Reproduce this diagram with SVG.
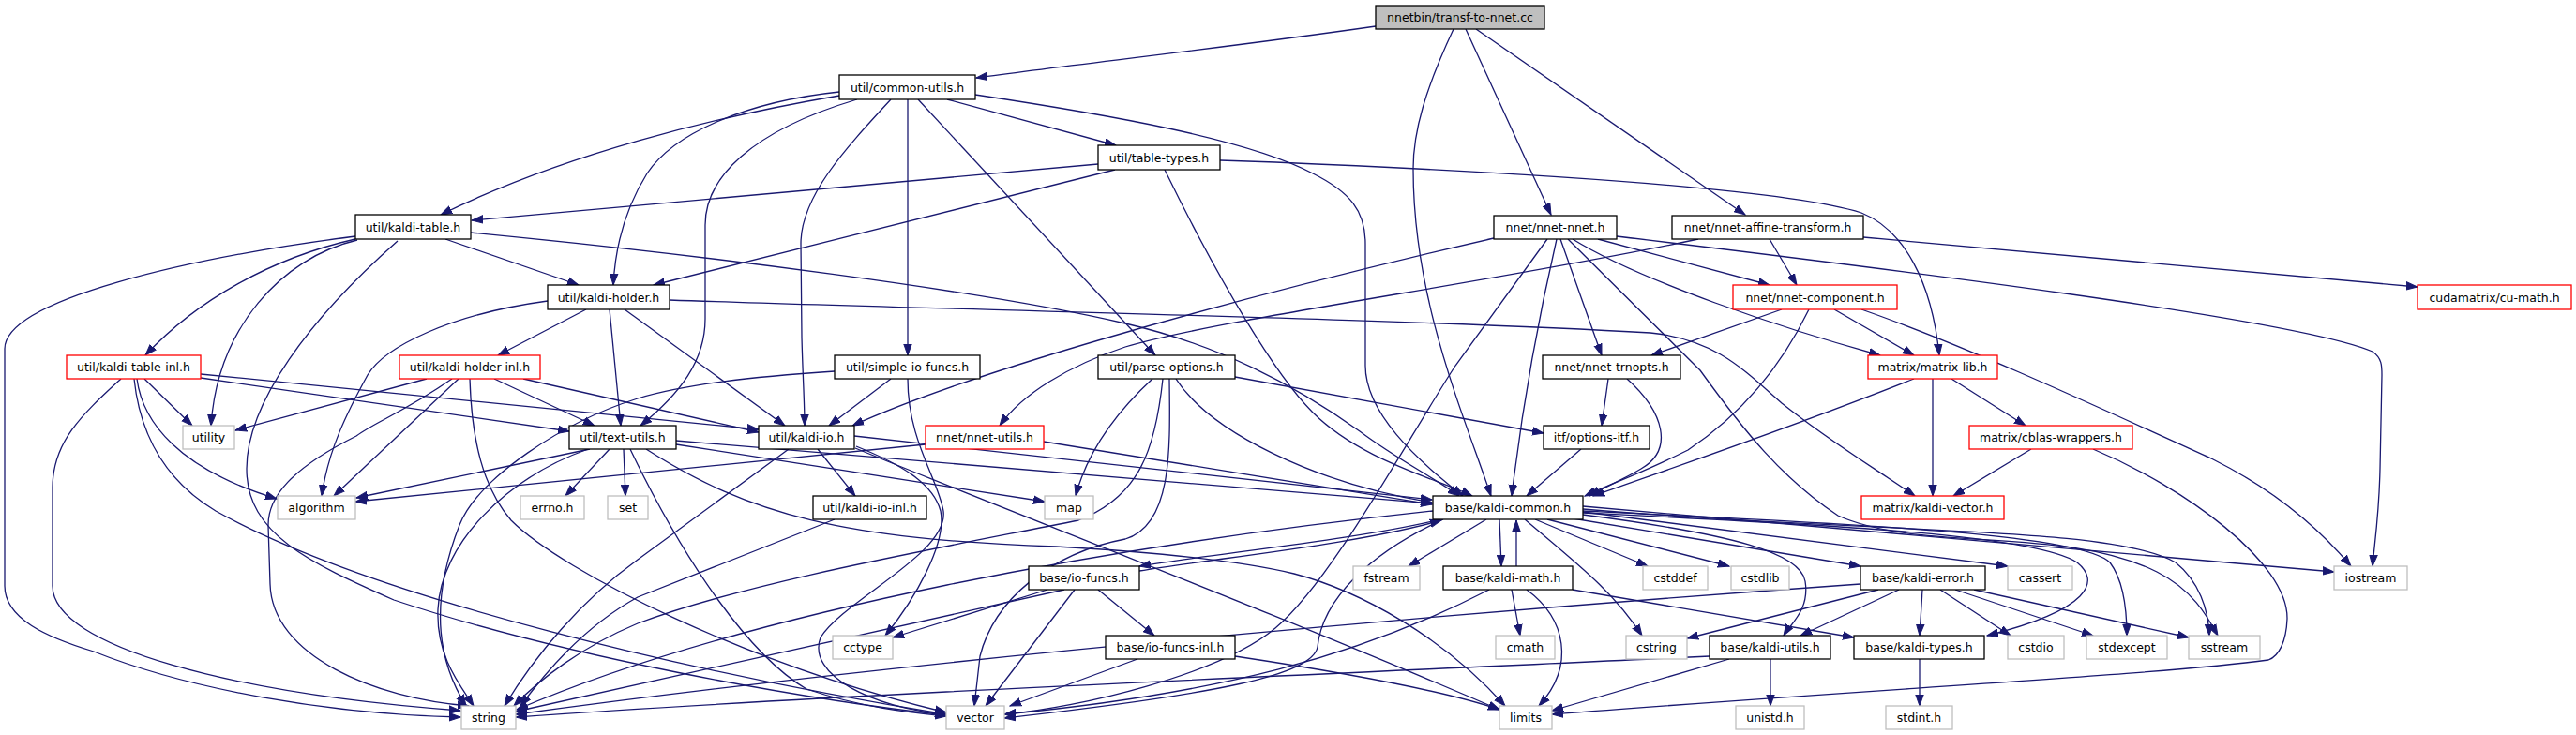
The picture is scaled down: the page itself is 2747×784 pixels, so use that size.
<svg xmlns="http://www.w3.org/2000/svg" width="2747" height="784" viewBox="0 0 2747 784">
<style>
rect{stroke-width:1.3}
.b rect{fill:#fff;stroke:#000}
.r rect{fill:#fff;stroke:#ff0000}
.g rect{fill:#fff;stroke:#bfbfbf}
.root rect{fill:#bfbfbf;stroke:#000}
text{font-family:"DejaVu Sans",sans-serif;font-size:12.5px;fill:#000;text-anchor:middle}
#edges path{fill:none;stroke:#191970;stroke-width:1.3;marker-end:url(#a)}
</style>
<defs>
<marker id="a" markerWidth="13" markerHeight="10" refX="12" refY="5" orient="auto" markerUnits="userSpaceOnUse"><path d="M0,0.8 L12,5 L0,9.2 z" fill="#191970" stroke="#191970" stroke-width="1"/></marker>
</defs>
<rect width="2747" height="784" fill="#fff"/>
<g id="edges">
<path d="M1467,28 C1300,52 1150,68 1041,83"/>
<path d="M1550,31 C1520,95 1507,140 1507,180 C1507,320 1560,440 1590,529"/>
<path d="M1563,31 L1654,229"/>
<path d="M1574,31 L1861,229"/>
<path d="M895,102 C760,125 600,165 470,229"/>
<path d="M895,98 C800,108 720,140 690,185 C665,225 656,265 654,304"/>
<path d="M914,106 C800,140 752,190 752,240 L752,340 C752,385 725,420 683,454"/>
<path d="M950,106 C900,160 854,210 854,260 L855,360 C856,400 858,430 858,454"/>
<path d="M968,106 L968,379"/>
<path d="M979,106 L1232,379"/>
<path d="M1010,106 L1190,155"/>
<path d="M1040,101 C1180,122 1330,148 1400,185 C1440,205 1456,225 1456,260 L1456,390 C1456,440 1510,490 1560,529"/>
<path d="M1171,175 L503,235"/>
<path d="M1189,181 L697,304"/>
<path d="M1301,171 L1360,173 C1600,183 1900,200 1985,227 C2030,245 2060,300 2068,379"/>
<path d="M1242,181 C1300,300 1360,400 1400,440 C1450,490 1530,510 1570,529"/>
<path d="M379,252 C200,275 5,320 5,372 L5,625 C5,660 50,680 100,695 C200,735 350,762 491,765"/>
<path d="M379,255 C290,275 210,320 155,379"/>
<path d="M381,256 C300,275 232,350 225,454"/>
<path d="M424,257 C330,340 263,430 263,500 C263,570 330,600 420,640 C600,700 850,745 1009,763"/>
<path d="M475,255 L617,304"/>
<path d="M502,248 C750,272 1050,310 1200,345 C1300,368 1380,410 1450,460 C1490,490 1530,510 1556,529"/>
<path d="M584,321 C480,335 410,370 392,400 C370,440 350,480 343,529"/>
<path d="M625,330 L531,379"/>
<path d="M650,330 L662,454"/>
<path d="M666,330 L837,454"/>
<path d="M714,320 C1000,330 1500,340 1760,355 C1830,362 1860,395 1900,430 C1950,470 2000,500 2042,529"/>
<path d="M455,404 L251,459"/>
<path d="M489,404 L356,529"/>
<path d="M482,404 C430,440 400,450 380,465 C310,500 286,530 286,560 L288,623 C290,700 400,745 500,753"/>
<path d="M527,404 L634,454"/>
<path d="M558,404 L809,461"/>
<path d="M501,404 C503,470 515,520 545,555 C600,610 800,710 1009,760"/>
<path d="M154,404 L205,454"/>
<path d="M146,404 C152,450 190,500 295,532"/>
<path d="M129,404 C90,440 56,470 56,520 L56,625 C56,690 250,740 491,758"/>
<path d="M143,404 C150,470 180,515 230,545 C400,640 750,720 1009,762"/>
<path d="M214,399 L809,458"/>
<path d="M214,403 L607,460"/>
<path d="M629,479 L380,531"/>
<path d="M650,479 L603,529"/>
<path d="M665,479 L667,529"/>
<path d="M627,479 C540,510 470,580 467,650 C465,700 490,730 505,753"/>
<path d="M721,474 L1114,535"/>
<path d="M672,479 C730,600 800,700 860,735 C920,755 970,760 1009,764"/>
<path d="M689,479 C800,550 900,575 1126,583 C1250,590 1330,600 1380,612 C1450,630 1540,680 1605,753"/>
<path d="M721,470 L1527,537"/>
<path d="M872,479 L912,529"/>
<path d="M841,479 L680,597 C620,640 570,700 538,753"/>
<path d="M913,476 C960,495 995,515 1003,545 C1010,580 975,640 944,678"/>
<path d="M968,404 C968,470 1000,510 1006,545 C1012,590 900,640 875,680 C860,720 930,755 1009,762"/>
<path d="M912,478 C1100,555 1350,650 1599,757"/>
<path d="M911,465 L1527,533"/>
<path d="M950,404 L884,454"/>
<path d="M890,396 C800,402 730,410 680,425 C600,450 510,510 490,560 C455,650 470,710 497,753"/>
<path d="M890,554 L680,637 C620,670 580,720 555,753"/>
<path d="M1229,404 C1190,440 1160,480 1147,529"/>
<path d="M1240,404 C1232,480 1215,530 1150,555 C1000,585 800,620 680,665 C620,690 575,725 548,753"/>
<path d="M1247,404 C1248,480 1250,560 1200,575 C1120,590 1060,640 1045,700 L1039,753"/>
<path d="M1254,404 C1290,460 1400,515 1527,536"/>
<path d="M1317,402 L1646,462"/>
<path d="M1593,254 C1350,310 1050,390 909,454"/>
<path d="M1660,255 C1645,320 1625,420 1612,529"/>
<path d="M1664,255 L1708,379"/>
<path d="M1704,255 L1887,304"/>
<path d="M1677,255 C1750,300 1900,350 2005,379"/>
<path d="M1650,255 L1552,390 C1500,470 1420,620 1360,670 C1300,720 1150,755 1071,762"/>
<path d="M1724,252 C2000,285 2450,340 2530,375 C2540,382 2540,390 2540,400 L2538,500 C2537,550 2532,580 2530,604"/>
<path d="M1672,255 L1813,395 C1860,460 1900,510 1960,550 C2050,590 2200,560 2300,610 C2340,630 2355,660 2365,678"/>
<path d="M1811,255 C1600,300 1300,340 1200,370 C1140,390 1090,420 1066,454"/>
<path d="M1887,255 L1916,304"/>
<path d="M1987,253 L2578,306"/>
<path d="M1900,330 L1761,379"/>
<path d="M1929,330 C1900,390 1860,440 1800,480 C1750,505 1720,515 1690,529"/>
<path d="M1956,330 L2041,379"/>
<path d="M1985,330 C2100,370 2250,440 2360,490 C2420,520 2470,560 2507,604"/>
<path d="M1715,404 L1708,454"/>
<path d="M1735,404 C1775,440 1785,480 1750,500 C1730,512 1710,520 1695,529"/>
<path d="M1686,479 L1628,529"/>
<path d="M2041,404 C1900,460 1780,500 1699,529"/>
<path d="M2061,404 L2061,529"/>
<path d="M2081,404 L2160,454"/>
<path d="M2166,479 L2083,529"/>
<path d="M2232,479 C2330,520 2440,600 2439,660 C2438,685 2430,700 2419,704 C2300,720 2000,735 1655,762"/>
<path d="M1585,554 L1502,604"/>
<path d="M1599,554 L1601,604"/>
<path d="M1536,554 C1450,575 1300,590 1215,604"/>
<path d="M1215,609 C1300,595 1450,580 1537,555"/>
<path d="M1626,554 C1680,600 1720,630 1751,678"/>
<path d="M1637,554 L1757,604"/>
<path d="M1650,554 L1844,604"/>
<path d="M1677,553 L1984,604"/>
<path d="M1688,549 C1850,570 1920,590 1925,620 C1930,650 1910,665 1902,678"/>
<path d="M1688,546 L2141,604"/>
<path d="M1688,540 L2489,610"/>
<path d="M1688,543 C2000,570 2250,560 2320,600 C2345,620 2355,650 2356,678"/>
<path d="M1688,545 C2000,560 2220,570 2250,600 C2265,620 2268,650 2268,678"/>
<path d="M1688,547 C1950,560 2170,570 2215,600 C2240,620 2230,650 2119,678"/>
<path d="M1528,545 C1200,580 800,650 551,757"/>
<path d="M1539,554 C1460,590 1410,640 1405,690 C1400,720 1300,740 1071,766"/>
<path d="M1117,629 L952,680"/>
<path d="M1135,629 L550,759"/>
<path d="M1146,629 L1051,753"/>
<path d="M1171,629 L1231,678"/>
<path d="M1213,703 L1077,753"/>
<path d="M1317,700 C1450,720 1550,740 1599,757"/>
<path d="M1617,604 L1617,555"/>
<path d="M1612,629 L1621,678"/>
<path d="M1628,629 C1670,660 1680,710 1641,753"/>
<path d="M1588,629 C1450,700 1300,740 1071,762"/>
<path d="M1677,629 L1977,680"/>
<path d="M1984,623 C1600,650 1000,700 550,762"/>
<path d="M2003,629 L1799,681"/>
<path d="M2025,629 L1920,678"/>
<path d="M2050,629 L2047,678"/>
<path d="M2069,629 L2144,678"/>
<path d="M2085,629 L2232,678"/>
<path d="M2105,629 L2334,680"/>
<path d="M1823,700 C1400,720 900,740 550,765"/>
<path d="M1844,703 L1655,758"/>
<path d="M1888,703 L1888,753"/>
<path d="M2047,703 L2047,753"/>
<path d="M987,474 L379,535"/>
<path d="M1113,471 L1527,538"/>
</g>
<g id="n-root" class="root"><rect x="1467" y="6" width="180" height="25"/><text x="1557" y="23">nnetbin/transf-to-nnet.cc</text></g>
<g id="n-common-utils" class="b"><rect x="895" y="80" width="145" height="26"/><text x="967.5" y="97.5">util/common-utils.h</text></g>
<g id="n-table-types" class="b"><rect x="1171" y="155" width="130" height="26"/><text x="1236" y="172.5">util/table-types.h</text></g>
<g id="n-kaldi-table" class="b"><rect x="379" y="229" width="123" height="26"/><text x="440.5" y="246.5">util/kaldi-table.h</text></g>
<g id="n-nnet-nnet" class="b"><rect x="1593" y="230" width="131" height="25"/><text x="1658.5" y="247">nnet/nnet-nnet.h</text></g>
<g id="n-affine" class="b"><rect x="1783" y="230" width="204" height="25"/><text x="1885" y="247">nnet/nnet-affine-transform.h</text></g>
<g id="n-kaldi-holder" class="b"><rect x="584" y="304" width="130" height="26"/><text x="649" y="321.5">util/kaldi-holder.h</text></g>
<g id="n-nnet-component" class="r"><rect x="1848" y="304" width="175" height="26"/><text x="1935.5" y="321.5">nnet/nnet-component.h</text></g>
<g id="n-cu-math" class="r"><rect x="2578" y="304" width="164" height="26"/><text x="2660" y="321.5">cudamatrix/cu-math.h</text></g>
<g id="n-kaldi-table-inl" class="r"><rect x="71" y="379" width="143" height="25"/><text x="142.5" y="396">util/kaldi-table-inl.h</text></g>
<g id="n-kaldi-holder-inl" class="r"><rect x="426" y="379" width="150" height="25"/><text x="501" y="396">util/kaldi-holder-inl.h</text></g>
<g id="n-simple-io-funcs" class="b"><rect x="890" y="379" width="155" height="25"/><text x="967.5" y="396">util/simple-io-funcs.h</text></g>
<g id="n-parse-options" class="b"><rect x="1171" y="379" width="146" height="25"/><text x="1244" y="396">util/parse-options.h</text></g>
<g id="n-nnet-trnopts" class="b"><rect x="1645" y="379" width="147" height="25"/><text x="1718.5" y="396">nnet/nnet-trnopts.h</text></g>
<g id="n-matrix-lib" class="r"><rect x="1992" y="379" width="138" height="25"/><text x="2061" y="396">matrix/matrix-lib.h</text></g>
<g id="n-utility" class="g"><rect x="195" y="454" width="55" height="25"/><text x="222.5" y="471">utility</text></g>
<g id="n-text-utils" class="b"><rect x="607" y="454" width="114" height="25"/><text x="664" y="471">util/text-utils.h</text></g>
<g id="n-kaldi-io" class="b"><rect x="809" y="454" width="102" height="25"/><text x="860" y="471">util/kaldi-io.h</text></g>
<g id="n-nnet-utils" class="r"><rect x="987" y="454" width="126" height="25"/><text x="1050" y="471">nnet/nnet-utils.h</text></g>
<g id="n-options-itf" class="b"><rect x="1646" y="454" width="113" height="25"/><text x="1702.5" y="471">itf/options-itf.h</text></g>
<g id="n-cblas-wrappers" class="r"><rect x="2100" y="454" width="174" height="25"/><text x="2187" y="471">matrix/cblas-wrappers.h</text></g>
<g id="n-algorithm" class="g"><rect x="296" y="529" width="83" height="25"/><text x="337.5" y="546">algorithm</text></g>
<g id="n-errno" class="g"><rect x="555" y="529" width="68" height="25"/><text x="589" y="546">errno.h</text></g>
<g id="n-set" class="g"><rect x="648" y="529" width="43" height="25"/><text x="669.5" y="546">set</text></g>
<g id="n-kaldi-io-inl" class="b"><rect x="867" y="529" width="121" height="25"/><text x="927.5" y="546">util/kaldi-io-inl.h</text></g>
<g id="n-map" class="g"><rect x="1114" y="529" width="52" height="25"/><text x="1140" y="546">map</text></g>
<g id="n-kaldi-common" class="b"><rect x="1528" y="529" width="160" height="25"/><text x="1608" y="546">base/kaldi-common.h</text></g>
<g id="n-kaldi-vector" class="r"><rect x="1985" y="529" width="152" height="25"/><text x="2061" y="546">matrix/kaldi-vector.h</text></g>
<g id="n-io-funcs" class="b"><rect x="1097" y="604" width="118" height="25"/><text x="1156" y="621">base/io-funcs.h</text></g>
<g id="n-fstream" class="g"><rect x="1443" y="604" width="71" height="25"/><text x="1478.5" y="621">fstream</text></g>
<g id="n-kaldi-math" class="b"><rect x="1539" y="604" width="138" height="25"/><text x="1608" y="621">base/kaldi-math.h</text></g>
<g id="n-cstddef" class="g"><rect x="1752" y="604" width="69" height="25"/><text x="1786.5" y="621">cstddef</text></g>
<g id="n-cstdlib" class="g"><rect x="1846" y="604" width="62" height="25"/><text x="1877" y="621">cstdlib</text></g>
<g id="n-kaldi-error" class="b"><rect x="1984" y="604" width="133" height="25"/><text x="2050.5" y="621">base/kaldi-error.h</text></g>
<g id="n-cassert" class="g"><rect x="2141" y="604" width="69" height="25"/><text x="2175.5" y="621">cassert</text></g>
<g id="n-iostream" class="g"><rect x="2489" y="604" width="78" height="25"/><text x="2528" y="621">iostream</text></g>
<g id="n-cctype" class="g"><rect x="888" y="678" width="64" height="25"/><text x="920" y="695">cctype</text></g>
<g id="n-io-funcs-inl" class="b"><rect x="1179" y="678" width="138" height="25"/><text x="1248" y="695">base/io-funcs-inl.h</text></g>
<g id="n-cmath" class="g"><rect x="1595" y="678" width="63" height="25"/><text x="1626.5" y="695">cmath</text></g>
<g id="n-cstring" class="g"><rect x="1734" y="678" width="65" height="25"/><text x="1766.5" y="695">cstring</text></g>
<g id="n-kaldi-utils" class="b"><rect x="1823" y="678" width="129" height="25"/><text x="1887.5" y="695">base/kaldi-utils.h</text></g>
<g id="n-kaldi-types" class="b"><rect x="1977" y="678" width="139" height="25"/><text x="2046.5" y="695">base/kaldi-types.h</text></g>
<g id="n-cstdio" class="g"><rect x="2141" y="678" width="60" height="25"/><text x="2171" y="695">cstdio</text></g>
<g id="n-stdexcept" class="g"><rect x="2225" y="678" width="86" height="25"/><text x="2268" y="695">stdexcept</text></g>
<g id="n-sstream" class="g"><rect x="2334" y="678" width="76" height="25"/><text x="2372" y="695">sstream</text></g>
<g id="n-string" class="g"><rect x="492" y="753" width="58" height="25"/><text x="521" y="770">string</text></g>
<g id="n-vector" class="g"><rect x="1009" y="753" width="62" height="25"/><text x="1040" y="770">vector</text></g>
<g id="n-limits" class="g"><rect x="1599" y="753" width="56" height="25"/><text x="1627" y="770">limits</text></g>
<g id="n-unistd" class="g"><rect x="1851" y="753" width="73" height="25"/><text x="1887.5" y="770">unistd.h</text></g>
<g id="n-stdint" class="g"><rect x="2011" y="753" width="71" height="25"/><text x="2046.5" y="770">stdint.h</text></g>
</svg>
